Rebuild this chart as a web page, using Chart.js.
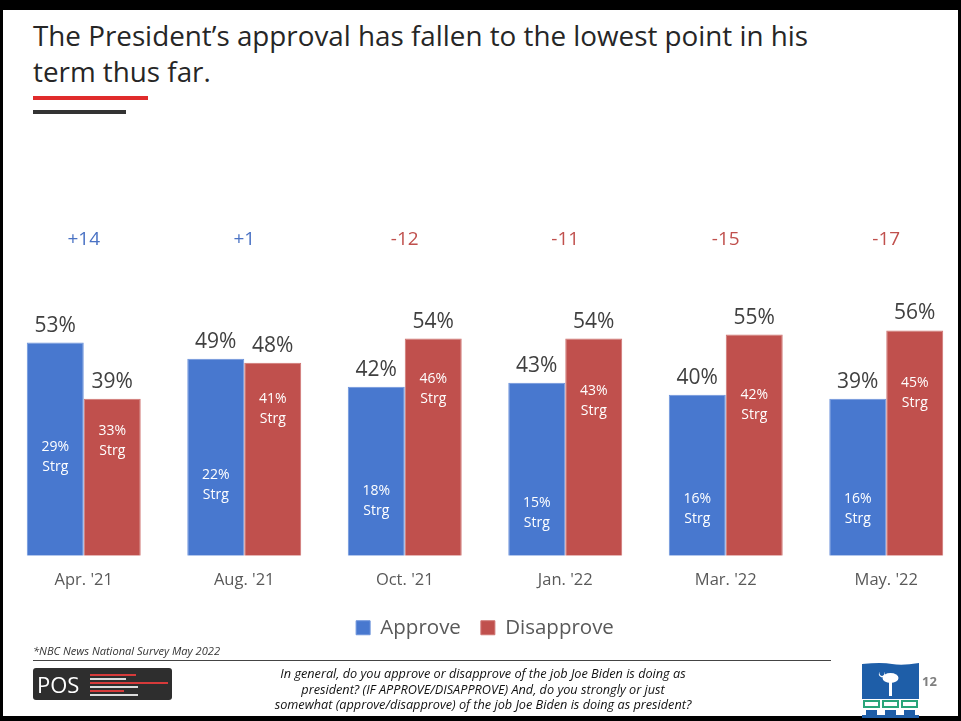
<!DOCTYPE html>
<html>
<head>
<meta charset="utf-8">
<script src="https://cdn.jsdelivr.net/npm/chart.js@4.4.1/dist/chart.umd.min.js"></script>
<style>
  html, body { margin: 0; padding: 0; background: #fff; }
  body { width: 961px; height: 721px; overflow: hidden; position: relative; font-family: "Open Sans", sans-serif; }
  .abs { position: absolute; }
  #title { left: 33px; top: 17px; font-size: 27.8px; line-height: 36px; color: #262626; width: 900px; }
  #chartBox { left: 0; top: 200px; width: 968px; height: 448px; }
</style>
</head>
<body>
<!-- slide frame -->
<div class="abs" style="left:0;top:0;width:961px;height:10px;background:#000"></div>
<div class="abs" style="left:0;top:0;width:3px;height:721px;background:#000"></div>
<div class="abs" style="left:958px;top:0;width:3px;height:721px;background:#000"></div>
<div class="abs" style="left:0;top:716px;width:961px;height:5px;background:#000"></div>

<div id="title" class="abs">The President’s approval has fallen to the lowest point in his<br>term thus far.</div>
<div class="abs" style="left:33px;top:96px;width:115px;height:4px;background:#e02b2b"></div>
<div class="abs" style="left:33px;top:110px;width:93px;height:4px;background:#333"></div>

<div id="chartBox" class="abs"><canvas id="approvalChart"></canvas></div>

<!-- footer -->
<div class="abs" style="left:33px;top:643px;font-size:11.1px;font-style:italic;color:#333">*NBC News National Survey May 2022</div>
<div class="abs" style="left:33px;top:660px;width:798px;height:1px;background:#444"></div>
<svg class="abs" style="left:33px;top:668px" width="139" height="32">
  <rect x="0" y="0" width="139" height="32" rx="3" fill="#2e2e2e"/>
  <text x="4" y="25" font-family="Open Sans" font-size="22" fill="#fff">POS</text>
  <rect x="57" y="6" width="46" height="2" fill="#d63a3a"/>
  <rect x="57" y="10" width="36" height="2" fill="#ddd"/>
  <rect x="57" y="14" width="78" height="2" fill="#d63a3a"/>
  <rect x="57" y="18" width="48" height="2" fill="#ddd"/>
  <rect x="57" y="22" width="34" height="2" fill="#d63a3a"/>
  <rect x="57" y="26" width="48" height="2" fill="#ddd"/>
</svg>
<div class="abs" style="left:183px;top:666px;width:600px;text-align:center;font-size:12.7px;line-height:15.5px;font-style:italic;color:#111">In general, do you approve or disapprove of the job Joe Biden is doing as<br>president? (IF APPROVE/DISAPPROVE) And, do you strongly or just<br>somewhat (approve/disapprove) of the job Joe Biden is doing as president?</div>
<svg class="abs" style="left:862px;top:662px" width="58" height="59">
  <path d="M0 2 Q20 0 30 2 T57 1 V37 H0 Z" fill="#1e5ea8"/>
  <rect x="27" y="18" width="3" height="16" fill="#fff"/>
  <ellipse cx="28.5" cy="16" rx="8" ry="5" fill="#fff"/>
  <path d="M18 10 a3 3 0 1 0 4 0 a2.5 2.5 0 1 1 -4 0" fill="#fff"/>
  <rect x="2" y="39" width="15" height="6" fill="none" stroke="#2aa57a" stroke-width="2"/>
  <rect x="21" y="39" width="15" height="6" fill="none" stroke="#2aa57a" stroke-width="2"/>
  <rect x="40" y="39" width="15" height="6" fill="none" stroke="#2aa57a" stroke-width="2"/>
  <rect x="4" y="48" width="11" height="6" fill="#1e5ea8"/>
  <rect x="23" y="48" width="11" height="6" fill="#1e5ea8"/>
  <rect x="42" y="48" width="11" height="6" fill="#1e5ea8"/>
  <rect x="0" y="53" width="57" height="3" fill="#1e5ea8"/>
</svg>
<div class="abs" style="left:922px;top:672px;font-size:13px;font-weight:bold;color:#7f7f7f">12</div>

<script>
const categories = ["Apr. '21", "Aug. '21", "Oct. '21", "Jan. '22", "Mar. '22", "May. '22"];
const approve = [53, 49, 42, 43, 40, 39];
const disapprove = [39, 48, 54, 54, 55, 56];
const approveStrong = [29, 22, 18, 15, 16, 16];
const disapproveStrong = [33, 41, 46, 43, 42, 45];
const margins = ['+14', '+1', '-12', '-11', '-15', '-17'];

const BLUE = '#4878cf';
const RED = '#c0504d';

// value labels above bars, "Strg" labels inside, and the net margin row
const labelPlugin = {
    id: 'barLabels',
    afterDatasetsDraw(chart) {
        const ctx = chart.ctx;
        const yScale = chart.scales.y;
        const strong = [approveStrong, disapproveStrong];
        ctx.save();
        ctx.textAlign = 'center';
        ctx.textBaseline = 'middle';
        chart.data.datasets.forEach((ds, di) => {
            const meta = chart.getDatasetMeta(di);
            meta.data.forEach((bar, i) => {
                ctx.fillStyle = '#404040';
                ctx.font = '21px "Open Sans"';
                ctx.fillText(ds.data[i] + '%', bar.x, bar.y - 17);
                const sy = yScale.getPixelForValue(strong[di][i]) + 8;
                ctx.fillStyle = '#ffffff';
                ctx.font = '14px "Open Sans"';
                ctx.fillText(strong[di][i] + '%', bar.x, sy);
                ctx.fillText('Strg', bar.x, sy + 20);
            });
        });
        const xScale = chart.scales.x;
        ctx.font = '19px "Open Sans"';
        margins.forEach((m, i) => {
            ctx.fillStyle = m.startsWith('+') ? '#4a72c4' : RED;
            ctx.fillText(m, xScale.getPixelForValue(i), chart.chartArea.top + 6);
        });
        ctx.restore();
    }
};

new Chart(document.getElementById('approvalChart').getContext('2d'), {
    type: 'bar',
    data: {
        labels: categories,
        datasets: [{
            label: 'Approve',
            data: approve,
            backgroundColor: BLUE,
            borderColor: '#6d93db',
            borderWidth: 1,
            categoryPercentage: 0.71,
            barPercentage: 1.0
        }, {
            label: 'Disapprove',
            data: disapprove,
            backgroundColor: RED,
            borderColor: '#cf7472',
            borderWidth: 1,
            categoryPercentage: 0.71,
            barPercentage: 1.0
        }]
    },
    options: {
        responsive: true,
        maintainAspectRatio: false,
        animation: false,
        layout: { padding: { left: 3.5, right: 1.5, top: 34, bottom: 0 } },
        plugins: {
            legend: {
                position: 'bottom',
                labels: {
                    boxWidth: 14,
                    boxHeight: 14,
                    padding: 20,
                    color: '#595959',
                    font: { family: 'Open Sans', size: 20.5 }
                }
            },
            tooltip: { enabled: false }
        },
        scales: {
            x: {
                grid: { display: false },
                border: { display: false },
                ticks: { color: '#595959', font: { family: 'Open Sans', size: 16.5 }, padding: 7 }
            },
            y: {
                display: false,
                min: 0,
                max: 80
            }
        }
    },
    plugins: [labelPlugin]
});
</script>
</body>
</html>
